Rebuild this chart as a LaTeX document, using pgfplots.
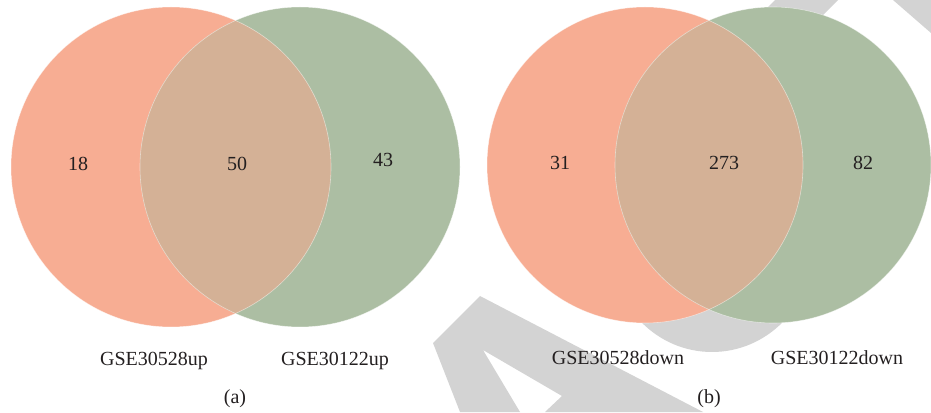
\documentclass[border=0pt]{standalone}
\usepackage{fontspec}
\setmainfont{Liberation Serif}
\usepackage{pgfplots}
\pgfplotsset{compat=1.18}
\definecolor{vred}{RGB}{247,173,147}
\definecolor{vgreen}{RGB}{172,190,163}
\definecolor{vmix}{RGB}{212,177,150}
\definecolor{wm}{RGB}{211,211,211}
\definecolor{txt}{RGB}{35,31,32}
\newcommand{\lab}{\fontsize{20}{24}\selectfont\color{txt}}
\begin{document}
\begin{tikzpicture}
\begin{axis}[
  width=931pt, height=412pt, scale only axis,
  xmin=0, xmax=931, ymin=0, ymax=412,
  hide axis, clip=false,
  every node near coord/.append style={anchor=base, inner sep=0pt, font=\lab, text=txt},
]
% watermark (behind)
\addplot[fill=wm, draw=none] coordinates {(460,0) (433,69) (480,116) (703,0) (545,0) (562,16) (483,62) (520,0)} -- cycle;
\addplot[fill=wm, draw=none] coordinates {(775,412) (838,412) (790,364) (727,364)} -- cycle;
\addplot[fill=wm, draw=none] coordinates {(893,412) (931,412) (931,379)} -- cycle;
\fill[wm] (axis cs:712,162) ellipse[x radius=100pt, y radius=102pt];
% panel (a)
\fill[vred] (axis cs:171,245) circle[radius=160pt];
\fill[vgreen] (axis cs:300,245) circle[radius=160pt];
\begin{scope}
\clip (axis cs:171,245) circle[radius=160pt];
\fill[vmix] (axis cs:300,245) circle[radius=160pt];
\end{scope}
\draw[white, opacity=0.5, line width=0.6pt] (axis cs:171,245) circle[radius=160pt];
\draw[white, opacity=0.5, line width=0.6pt] (axis cs:300,245) circle[radius=160pt];
% panel (b)
\fill[vred] (axis cs:645,247) circle[radius=158pt];
\fill[vgreen] (axis cs:773,247) circle[radius=158pt];
\begin{scope}
\clip (axis cs:645,247) circle[radius=158pt];
\fill[vmix] (axis cs:773,247) circle[radius=158pt];
\end{scope}
\draw[white, opacity=0.5, line width=0.6pt] (axis cs:645,247) circle[radius=158pt];
\draw[white, opacity=0.5, line width=0.6pt] (axis cs:773,247) circle[radius=158pt];
% counts
\addplot[draw=none, nodes near coords, point meta=explicit symbolic]
  coordinates {(78,241)[18] (237,241)[50] (383,245)[43]
               (560,242)[31] (724,242)[273] (863,242)[82]};
% set names and panel labels
\addplot[draw=none, nodes near coords, point meta=explicit symbolic]
  coordinates {(154,46)[GSE30528up] (335,46)[GSE30122up]
               (618,47)[GSE30528down] (837,47)[GSE30122down]
               (235,9)[(a)] (709,9)[(b)]};
\end{axis}
\pgfresetboundingbox
\path[use as bounding box] (0,0) rectangle (931pt,412pt);
\end{tikzpicture}
\end{document}
